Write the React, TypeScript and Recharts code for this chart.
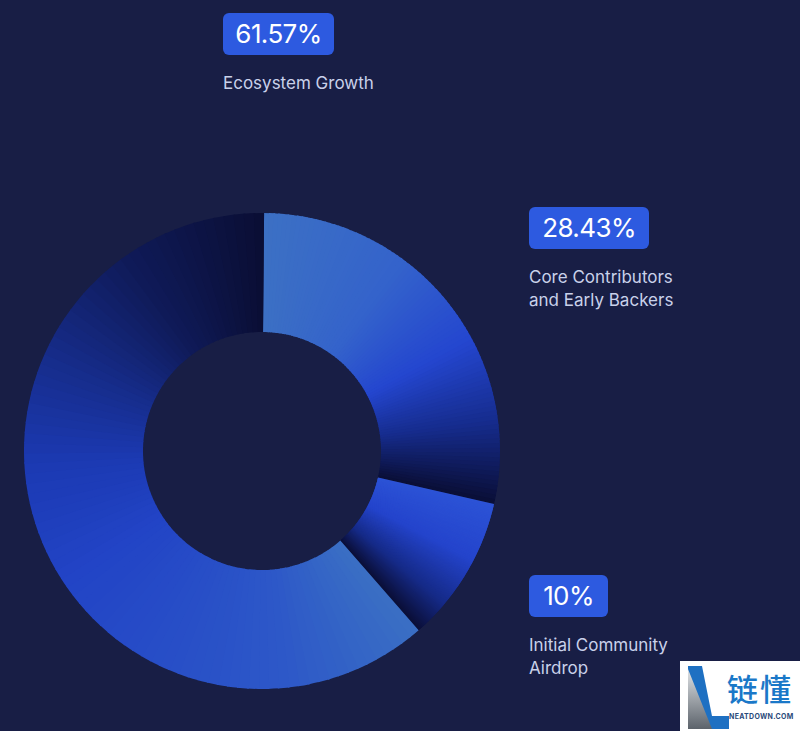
import React from "react";
import { PieChart, Pie, Cell } from "recharts";

const categories = ["Core Contributors and Early Backers", "Initial Community Airdrop", "Ecosystem Growth"];
const values = [28.43, 10, 61.57];
const badgeLabels = ["28.43%", "10%", "61.57%"];
const labelLines = [["Core Contributors", "and Early Backers"], ["Initial Community", "Airdrop"], ["Ecosystem Growth"]];

const gradientStops: [number, string][][] = [
  [[0, "#3c70c4"], [0.35, "#3463cb"], [0.6, "#2446cf"], [0.8, "#162c8e"], [1, "#0a0e36"]],
  [[0, "#2c53d6"], [0.4, "#2444cc"], [0.75, "#152a88"], [1, "#0a0e36"]],
  [[0, "#3a6fc4"], [0.16, "#2d58c8"], [0.44, "#2244c6"], [0.57, "#1c3ab4"], [0.7, "#162c8a"], [0.84, "#0f1a58"], [1, "#0a0e34"]],
];

const data = categories.map((name, i) => ({ name, value: values[i] }));

function hexToRgb(h: string) {
  const n = parseInt(h.slice(1), 16);
  return [(n >> 16) & 255, (n >> 8) & 255, n & 255];
}
function colorAt(stops: [number, string][], t: number) {
  for (let i = 0; i < stops.length - 1; i++) {
    const [t0, c0] = stops[i];
    const [t1, c1] = stops[i + 1];
    if (t >= t0 && t <= t1) {
      const f = (t - t0) / (t1 - t0 || 1);
      const a = hexToRgb(c0);
      const b = hexToRgb(c1);
      const r = a.map((v, k) => Math.round(v + (b[k] - v) * f));
      return `rgb(${r[0]},${r[1]},${r[2]})`;
    }
  }
  return stops[stops.length - 1][1];
}

const RAD = Math.PI / 180;
function pt(cx: number, cy: number, r: number, a: number) {
  return [cx + r * Math.cos(-a * RAD), cy + r * Math.sin(-a * RAD)];
}
function ringPath(cx: number, cy: number, ri: number, ro: number, a0: number, a1: number) {
  const [x0, y0] = pt(cx, cy, ro, a0);
  const [x1, y1] = pt(cx, cy, ro, a1);
  const [x2, y2] = pt(cx, cy, ri, a1);
  const [x3, y3] = pt(cx, cy, ri, a0);
  const large = Math.abs(a1 - a0) > 180 ? 1 : 0;
  const sweep = a1 < a0 ? 1 : 0;
  return `M${x0},${y0}A${ro},${ro},0,${large},${sweep},${x1},${y1}L${x2},${y2}A${ri},${ri},0,${large},${1 - sweep},${x3},${y3}Z`;
}

const GradientSector = (props: any) => {
  const { cx, cy, innerRadius, outerRadius, startAngle, endAngle } = props;
  const name = props.payload?.name ?? props.name;
  const idx = Math.max(0, categories.indexOf(name));
  const stops = gradientStops[idx];
  const n = 90;
  const span = endAngle - startAngle;
  const dir = span < 0 ? -1 : 1;
  const pieces = [];
  for (let i = 0; i < n; i++) {
    const a0 = startAngle + (span * i) / n;
    let a1 = startAngle + (span * (i + 1)) / n;
    if (i < n - 1) a1 += dir * 0.4;
    pieces.push(
      <path key={i} d={ringPath(cx, cy, innerRadius, outerRadius, a0, a1)} fill={colorAt(stops, (i + 0.5) / n)} stroke="none" />
    );
  }
  return <g>{pieces}</g>;
};

const badgePos = [
  { left: 529, top: 207, w: 120 },
  { left: 529, top: 575, w: 79 },
  { left: 223, top: 13, w: 111 },
];

export default function App() {
  return (
    <div style={{ position: "absolute", left: 0, top: 0, width: 800, height: 731, background: "#181e45", overflow: "hidden", fontFamily: "Inter, 'Noto Sans', sans-serif" }}>
      <PieChart width={800} height={731} margin={{ top: 0, right: 0, bottom: 0, left: 0 }} style={{ position: "absolute", left: 0, top: 0 }}>
        <defs>
          {gradientStops.map((stops, i) => (
            <linearGradient key={i} id={`g${i}`} x1="0" y1="0" x2="1" y2="1">
              {stops.map(([o, c], k) => (
                <stop key={k} offset={o} stopColor={c} />
              ))}
            </linearGradient>
          ))}
        </defs>
        <Pie
          data={data}
          dataKey="value"
          nameKey="name"
          cx={262}
          cy={451}
          innerRadius={119}
          outerRadius={238}
          startAngle={89.5}
          endAngle={-270.5}
          stroke="none"
          isAnimationActive={false}
          shape={GradientSector}
        >
          {data.map((d, i) => (
            <Cell key={d.name} fill={`url(#g${i})`} />
          ))}
        </Pie>
      </PieChart>
      {badgePos.map((p, i) => (
        <div key={i} style={{ position: "absolute", left: p.left, top: p.top }}>
          <div style={{ width: p.w, height: 42, background: "#2d5ae0", borderRadius: 6, color: "#ffffff", fontSize: 26, lineHeight: "42px", textAlign: "center", letterSpacing: -0.6 }}>
            {badgeLabels[i]}
          </div>
          <div style={{ marginTop: 17, color: "#c9d1ea", fontSize: 17, lineHeight: "23px" }}>
            {labelLines[i].map((l, k) => (
              <div key={k}>{l}</div>
            ))}
          </div>
        </div>
      ))}
      <div style={{ position: "absolute", left: 680, top: 661, width: 120, height: 70, background: "#ffffff" }}>
        <svg width={52} height={70} style={{ position: "absolute", left: 0, top: 0 }}>
          <defs>
            <linearGradient id="lg" x1="0" y1="0" x2="0" y2="1">
              <stop offset="0" stopColor="#e0e3e6" />
              <stop offset="1" stopColor="#5c636b" />
            </linearGradient>
          </defs>
          <polygon points="8,5 22,5 32,55 49,55 49,68 8,68" fill="#1e70c2" />
          <polygon points="8,8 32,68 8,68" fill="url(#lg)" />
        </svg>
        <div style={{ position: "absolute", left: 47, top: 10, fontSize: 31, color: "#1a78c8", fontFamily: "'Noto Sans CJK SC'", lineHeight: "34px", fontWeight: 500, letterSpacing: 2 }}>链懂</div>
        <div style={{ position: "absolute", left: 49, top: 51, fontSize: 7, color: "#2a4a7a", fontWeight: 700, letterSpacing: 0.3, lineHeight: "9px", whiteSpace: "nowrap" }}>NEATDOWN.COM</div>
      </div>
    </div>
  );
}
